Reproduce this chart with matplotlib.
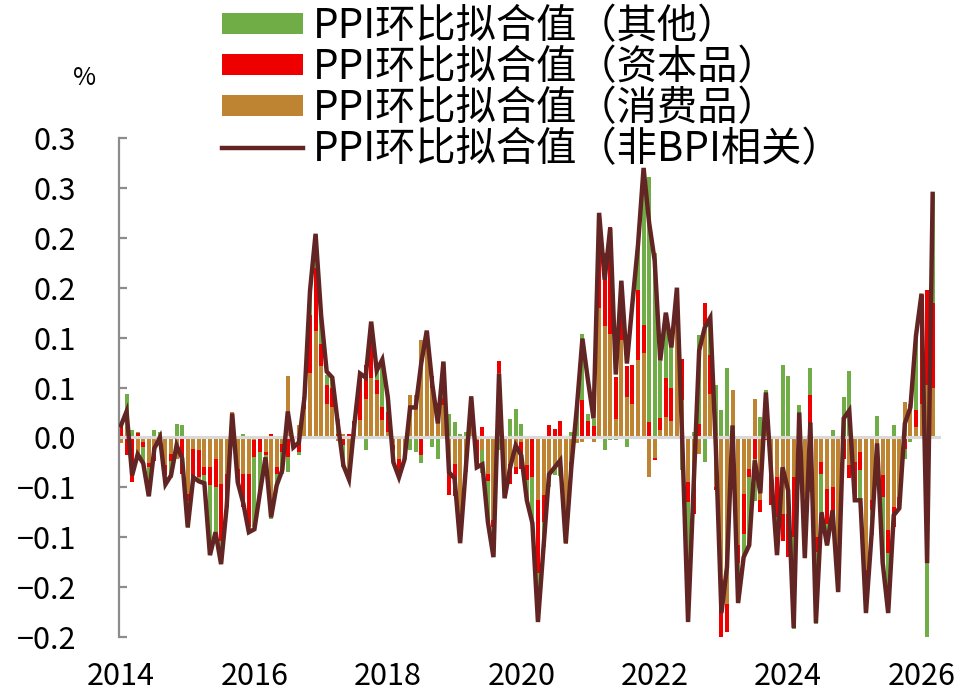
import numpy as np
import matplotlib
matplotlib.use("Agg")
import matplotlib.pyplot as plt
from matplotlib.patches import Patch
from matplotlib.lines import Line2D

plt.rcParams['font.family'] = ['Noto Sans CJK SC', 'DejaVu Sans']
plt.rcParams['axes.unicode_minus'] = True

# Monthly data, 2014-01 .. 2026-03
consumer = [  # 消费品
    -0.006, 0.010, 0.000, -0.022, -0.005, -0.026, -0.012, -0.003, -0.028, -0.017, -0.022, 0.000,
    -0.057, -0.012, -0.013, -0.030, -0.030, -0.022, -0.047, -0.037, 0.025, -0.032, -0.037, -0.037,
    -0.003, 0.000, -0.015, -0.067, -0.030, -0.007, 0.062, -0.005, 0.012, 0.028, 0.065, 0.107,
    0.072, 0.033, 0.030, -0.004, 0.003, -0.040, 0.010, 0.017, 0.038, 0.060, 0.043, 0.017,
    0.005, -0.008, -0.022, -0.022, 0.042, 0.042, 0.098, 0.107, 0.050, 0.027, 0.032, -0.035,
    -0.027, -0.103, -0.035, 0.022, -0.003, -0.013, -0.037, -0.083, 0.065, -0.045, -0.027, -0.030,
    -0.005, -0.028, 0.000, -0.063, -0.058, -0.037, -0.033, -0.025, -0.107, -0.025, -0.006, -0.005,
    0.000, -0.005, 0.130, 0.112, 0.104, 0.018, 0.098, 0.040, 0.033, 0.078, 0.085, -0.040,
    -0.021, 0.007, 0.020, 0.016, 0.113, 0.037, -0.045, -0.040, -0.017, 0.113, 0.043, -0.050,
    -0.142, -0.167, 0.047, -0.108, -0.057, -0.032, 0.038, -0.063, 0.035, -0.033, -0.040, -0.077,
    -0.077, -0.040, 0.020, -0.063, -0.055, -0.100, -0.025, -0.052, -0.050, -0.120, 0.000, -0.028,
    -0.025, -0.015, -0.133, -0.063, -0.027, -0.038, -0.093, -0.070, -0.060, 0.035, 0.033, 0.010,
    0.033, 0.053, 0.050,
]
capital = [  # 资本品
    0.015, -0.018, -0.045, 0.004, -0.005, -0.004, -0.012, 0.000, -0.010, -0.007, 0.000, -0.037,
    -0.007, -0.028, -0.027, -0.008, -0.018, -0.028, -0.057, -0.033, 0.000, -0.013, -0.033, -0.053,
    -0.017, -0.015, -0.003, 0.003, -0.007, -0.008, -0.020, -0.005, -0.015, 0.007, 0.058, 0.063,
    0.022, 0.020, 0.020, 0.003, -0.008, 0.003, 0.006, 0.043, 0.035, 0.037, 0.015, 0.013,
    0.020, -0.005, -0.018, 0.000, 0.000, 0.000, -0.018, 0.000, 0.012, 0.007, 0.007, -0.023,
    -0.032, -0.003, 0.000, 0.008, -0.027, 0.010, -0.007, -0.007, 0.012, -0.010, -0.020, -0.007,
    -0.027, -0.015, -0.040, -0.073, -0.027, 0.012, 0.008, 0.016, 0.000, -0.008, 0.000, 0.037,
    0.016, 0.011, 0.057, 0.073, 0.107, 0.043, 0.058, 0.032, 0.040, 0.070, 0.028, 0.015,
    -0.002, 0.012, 0.040, 0.034, 0.010, 0.042, -0.020, -0.037, 0.013, 0.022, 0.040, -0.003,
    -0.062, -0.028, -0.010, -0.018, -0.040, -0.008, -0.022, -0.012, -0.003, -0.035, -0.040, -0.027,
    -0.043, -0.060, -0.007, -0.008, 0.042, -0.015, -0.012, -0.035, -0.030, 0.000, -0.022, -0.013,
    -0.038, -0.018, -0.013, -0.010, 0.000, -0.022, -0.023, -0.020, -0.011, -0.012, 0.000, 0.017,
    0.110, 0.095, 0.085,
]
other = [  # 其他
    0.000, 0.033, 0.007, 0.001, -0.017, -0.028, 0.007, 0.005, -0.008, -0.017, 0.013, 0.012,
    -0.027, 0.000, -0.003, -0.008, -0.070, -0.045, -0.023, 0.000, 0.000, 0.000, 0.003, -0.005,
    -0.070, -0.040, -0.003, -0.015, -0.012, -0.022, -0.015, 0.000, -0.003, 0.005, 0.023, 0.033,
    0.028, 0.010, 0.009, 0.015, -0.022, -0.004, -0.002, 0.003, -0.013, 0.019, 0.009, 0.047,
    0.015, -0.012, 0.000, 0.000, -0.013, -0.015, -0.008, 0.000, -0.010, -0.022, 0.037, 0.023,
    0.015, 0.003, 0.005, 0.011, 0.000, -0.023, -0.042, -0.030, -0.013, -0.006, 0.018, 0.028,
    0.013, -0.020, -0.047, -0.048, -0.025, -0.013, -0.005, -0.014, 0.000, 0.005, 0.033, 0.067,
    0.007, 0.007, 0.038, -0.013, -0.003, -0.003, 0.000, -0.010, 0.000, 0.048, 0.157, 0.246,
    0.185, 0.058, 0.065, 0.040, 0.027, -0.033, -0.120, 0.005, 0.090, -0.025, 0.037, 0.053,
    0.027, 0.070, -0.025, -0.040, -0.023, -0.068, -0.042, 0.020, 0.012, 0.000, -0.038, 0.073,
    0.062, -0.092, 0.012, -0.050, 0.028, -0.072, -0.038, -0.022, 0.007, -0.035, 0.040, 0.067,
    0.000, -0.030, -0.030, -0.025, 0.021, -0.065, -0.060, 0.012, 0.000, -0.010, -0.005, 0.075,
    0.000, -0.203, 0.108,
]
non_bpi = [  # 非BPI相关
    0.012, 0.026, -0.038, -0.017, -0.026, -0.059, -0.011, 0.000, -0.047, -0.038, -0.008, -0.021,
    -0.090, -0.040, -0.044, -0.046, -0.118, -0.095, -0.127, -0.070, 0.024, -0.045, -0.066, -0.095,
    -0.092, -0.055, -0.020, -0.080, -0.048, -0.033, 0.026, -0.010, -0.005, 0.040, 0.147, 0.204,
    0.122, 0.066, 0.060, 0.014, -0.028, -0.042, 0.014, 0.064, 0.060, 0.116, 0.067, 0.078,
    0.040, -0.025, -0.040, -0.022, 0.030, 0.030, 0.074, 0.107, 0.053, 0.014, 0.076, -0.035,
    -0.041, -0.106, -0.033, 0.041, -0.030, -0.027, -0.085, -0.120, 0.064, -0.061, -0.030, -0.008,
    -0.018, -0.063, -0.086, -0.185, -0.110, -0.037, -0.030, -0.023, -0.106, -0.030, 0.030, 0.099,
    0.057, 0.019, 0.225, 0.158, 0.210, 0.063, 0.157, 0.074, 0.135, 0.193, 0.270, 0.215,
    0.177, 0.077, 0.125, 0.090, 0.150, -0.010, -0.185, -0.048, 0.087, 0.110, 0.120, -0.010,
    -0.176, -0.130, 0.012, -0.166, -0.120, -0.108, -0.023, -0.056, 0.045, -0.040, -0.118, -0.030,
    -0.053, -0.191, 0.025, -0.121, 0.015, -0.186, -0.075, -0.108, -0.073, -0.155, 0.019, 0.027,
    -0.063, -0.063, -0.176, -0.098, -0.006, -0.125, -0.176, -0.078, -0.071, 0.014, 0.030, 0.102,
    0.144, -0.126, 0.244,
]
year_labels = ["2014", "2016", "2018", "2020", "2022", "2024", "2026"]
year_tick_months = [0, 24, 48, 72, 96, 120, 144]
y_ticks = [-0.20, -0.15, -0.10, -0.05, 0.0, 0.05, 0.10, 0.15, 0.20, 0.25, 0.30]
y_tick_labels = ["\u22120.2", "\u22120.2", "\u22120.1", "\u22120.1", "0.0", "0.1", "0.1",
                 "0.2", "0.2", "0.3", "0.3"]
names = ["PPI环比拟合值（其他）", "PPI环比拟合值（资本品）", "PPI环比拟合值（消费品）",
         "PPI环比拟合值（非BPI相关）"]

c_green = "#70AD47"
c_red = "#EE0000"
c_tan = "#BF8432"
c_line = "#632523"
axis_grey = "#8C8C8C"

x = np.arange(len(non_bpi))

fig = plt.figure(figsize=(9.65, 6.97), dpi=100)
ax = fig.add_axes([119 / 965, 1 - 637 / 697, (941 - 119) / 965, (637 - 138) / 697])

pos = np.zeros(len(x))
neg = np.zeros(len(x))
for vals, col in [(consumer, c_tan), (capital, c_red), (other, c_green)]:
    v = np.array(vals)
    bottom = np.where(v >= 0, pos, neg)
    ax.bar(x, v, bottom=bottom, width=0.72, color=col, zorder=2, linewidth=0)
    pos = pos + np.where(v >= 0, v, 0)
    neg = neg + np.where(v < 0, v, 0)

ax.axhline(0, color="#D9D9D9", lw=2.2, zorder=2.5)
ax.plot(x, non_bpi, color=c_line, lw=3.2, zorder=3, solid_joinstyle="miter")

ax.set_xlim(-0.36, 147.5)
ax.set_ylim(-0.2, 0.3)
for s in ["top", "right", "bottom"]:
    ax.spines[s].set_visible(False)
ax.spines["left"].set_color(axis_grey)
ax.spines["left"].set_linewidth(1.6)

ax.set_yticks(y_ticks)
ax.set_yticklabels(y_tick_labels)
ax.tick_params(axis="y", direction="in", length=6, width=1.6, color=axis_grey,
               labelsize=22, pad=31, labelcolor="black")
ax.set_xticks(year_tick_months)
ax.set_xticklabels(year_labels)
ax.tick_params(axis="x", length=0, labelsize=22, pad=17, labelcolor="black")

fig.text(85 / 965, 1 - 78 / 697, "%", fontsize=18, ha="center", va="center")

leg_handles = [
    Patch(facecolor=c_green, edgecolor="none"),
    Patch(facecolor=c_red, edgecolor="none"),
    Patch(facecolor=c_tan, edgecolor="none"),
    Line2D([0], [0], color=c_line, lw=3.2),
]
ax.legend(leg_handles, names, loc="upper left", bbox_to_anchor=(222 / 965, 1 - 6 / 697),
          bbox_transform=fig.transFigure, frameon=False, fontsize=29,
          handlelength=2.0, handleheight=0.45, handletextpad=0.25,
          labelspacing=0.0, borderpad=0, borderaxespad=0)

fig.savefig("out.png", dpi=100)
